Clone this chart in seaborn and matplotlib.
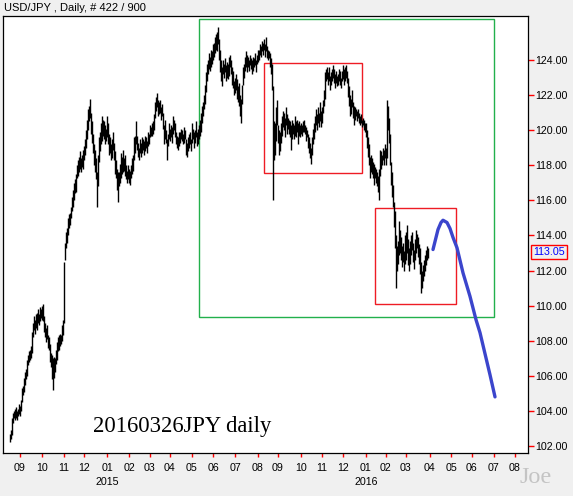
import numpy as np
import pandas as pd
import matplotlib
matplotlib.use("Agg")
import matplotlib.pyplot as plt
import seaborn as sns
from matplotlib.patches import Rectangle
from matplotlib.transforms import blended_transform_factory

# ---------------- data ----------------
# daily bar lows / highs, one per trading day (late Aug 2014 .. 25 Mar 2016)
bar_low = [
    102.2, 102.4, 102.6, 103.3, 103.6, 103.5, 103.6, 103.5, 103.7, 103.8,
    103.7, 104.0, 104.5, 104.9, 105.1, 105.5, 105.8, 106.0, 106.6, 106.8, 106.9, 107.0, 107.3, 108.2, 108.6, 108.4, 108.7, 108.6, 109.0, 108.9, 109.1, 109.3,
    109.2, 109.1, 108.5, 108.2, 107.9, 108.1, 107.6, 107.5, 106.8, 106.5, 105.8, 105.2, 105.9, 106.2, 106.7, 106.9, 107.4, 107.5, 107.7, 107.8, 108.0, 108.3,
    109.0, 112.6, 113.3, 113.6, 114.0, 114.4, 114.6, 115.0, 115.4, 115.6, 116.0, 116.4, 116.5, 117.3, 117.4, 117.6, 117.8, 117.6, 117.9, 117.8,
    118.3, 118.6, 119.0, 119.5, 120.0, 120.5, 120.7, 119.8, 119.3, 118.7, 118.0, 117.6, 117.2, 115.6, 116.8, 118.2, 118.8, 119.2, 119.4, 119.7, 119.5, 119.2, 119.4,
    119.6, 119.2, 118.6, 118.7, 118.3, 118.4, 118.9, 118.3, 117.5, 117.3, 116.6, 115.9, 116.8, 117.0, 117.3, 117.5, 117.6, 117.7, 117.4, 117.2, 117.0, 117.2,
    117.0, 116.9, 117.3, 117.5, 117.7, 118.3, 118.7, 119.2, 118.9, 118.5, 118.3, 118.7, 118.5, 118.7, 118.9, 118.6, 118.8, 119.0, 118.7, 119.1, 119.2,
    119.6, 119.7, 119.7, 119.8, 120.0, 120.7, 121.1, 121.3, 120.8, 120.9, 121.0, 120.6, 120.8, 120.1, 119.2, 119.5, 119.3, 118.3, 119.1, 119.5,
    119.4, 119.6, 119.3, 119.8, 120.0, 119.6, 119.2, 119.0, 118.9, 119.1, 119.3, 119.5, 119.4, 119.2, 119.3, 119.5, 118.6, 118.5, 118.8, 119.0, 119.2, 118.8,
    119.3, 119.5, 119.0, 119.3, 119.6, 119.1, 119.2, 119.5, 119.7, 119.9, 120.4, 120.8, 121.2, 121.5, 122.2, 122.8, 123.2, 123.5, 123.4, 123.6, 123.8,
    124.0, 124.2, 124.4, 124.6, 124.5, 124.9, 124.0, 123.3, 122.8, 122.5, 123.2, 123.0, 123.3, 122.8, 123.0, 122.9, 123.1, 123.6, 123.2, 122.6, 122.4, 122.0,
    122.1, 122.3, 121.8, 121.6, 121.4, 120.8, 120.4, 121.5, 122.6, 123.0, 123.4, 123.6, 123.3, 123.6, 123.4, 123.7, 123.5, 123.2, 123.4, 123.6, 123.7, 123.3, 123.8,
    123.9, 124.0, 124.3, 124.2, 124.5, 124.3, 124.6, 124.2, 124.5, 124.1, 124.0, 124.1, 123.6, 123.2, 122.3, 116.0, 118.3, 118.6, 119.4, 120.3,
    119.3, 118.6, 118.8, 119.3, 119.7, 120.2, 120.0, 119.6, 120.3, 119.8, 120.1, 119.8, 119.6, 118.9, 119.5, 119.8, 119.5, 119.7, 119.6, 119.9, 119.2, 119.7, 119.6,
    119.8, 119.7, 119.9, 119.9, 119.8, 119.4, 119.6, 119.0, 118.7, 118.4, 118.1, 118.6, 119.2, 119.5, 119.9, 120.3, 120.0, 120.4, 120.2, 120.5, 120.2,
    120.4, 121.0, 121.4, 121.8, 122.8, 122.9, 122.6, 122.8, 122.3, 122.6, 122.8, 123.0, 122.7, 122.4, 122.7, 122.5, 122.6, 122.8, 122.6, 122.4, 122.8,
    122.9, 122.6, 122.8, 123.0, 122.7, 121.9, 121.4, 120.8, 120.9, 121.3, 120.7, 120.3, 120.6, 120.8, 120.5, 120.7, 120.4, 120.3, 120.4, 120.2, 120.3, 120.0, 119.9,
    119.6, 119.0, 118.5, 118.0, 117.3, 117.6, 117.5, 117.3, 116.9, 117.3, 117.0, 116.8, 116.5, 116.0, 117.4, 117.8, 118.0, 118.3, 118.0, 118.4,
    118.0, 118.4, 120.0, 119.3, 118.0, 116.9, 116.2, 115.6, 114.5, 113.3, 111.0, 112.0, 112.4, 112.9, 113.0, 112.6, 112.2, 112.5, 112.0, 112.4,
    112.6, 113.0, 112.3, 112.0, 112.4, 112.9, 113.2, 112.5, 112.1, 112.6, 113.0, 113.3, 112.8, 112.4, 111.8, 110.7, 111.0, 111.4, 111.7, 112.0, 112.3, 112.6, 112.7,
]
bar_high = [
    102.7, 102.9, 103.6, 103.9, 104.0, 104.1, 104.2, 104.0, 104.1, 104.4,
    104.3, 104.6, 105.3, 105.4, 105.9, 106.2, 106.4, 106.9, 107.2, 107.4, 107.5, 107.7, 108.5, 109.0, 109.4, 109.2, 109.5, 109.6, 109.8, 109.5, 109.9, 109.8,
    110.0, 110.1, 109.4, 109.0, 108.7, 108.9, 108.3, 108.2, 107.8, 107.3, 107.2, 107.0, 107.1, 107.0, 107.5, 107.9, 108.2, 108.3, 108.4, 108.3, 108.9, 109.2,
    112.5, 113.6, 114.2, 114.4, 115.0, 115.2, 115.3, 115.6, 116.2, 116.6, 117.0, 117.2, 117.5, 118.0, 118.3, 118.5, 118.8, 118.4, 118.6, 118.9,
    119.1, 119.5, 120.0, 120.6, 121.2, 121.4, 121.8, 121.0, 120.5, 119.8, 119.2, 118.9, 118.4, 117.6, 118.6, 119.6, 119.9, 120.4, 120.8, 120.6, 120.5, 120.3, 120.1,
    120.8, 120.4, 119.8, 119.6, 119.2, 119.5, 119.9, 119.3, 118.8, 118.3, 117.8, 117.6, 117.6, 118.1, 118.7, 118.5, 118.9, 118.4, 118.6, 118.0, 117.7, 118.0,
    117.8, 117.7, 118.0, 118.4, 118.6, 119.6, 119.7, 120.5, 119.7, 119.3, 119.0, 119.5, 119.3, 119.6, 119.5, 119.4, 119.7, 119.6, 119.4, 119.9, 119.8,
    120.3, 120.2, 120.4, 120.5, 120.9, 121.6, 121.9, 122.1, 121.7, 121.6, 121.7, 121.3, 121.5, 121.0, 120.3, 120.6, 120.0, 119.5, 119.8, 120.4,
    120.1, 120.3, 120.2, 120.8, 120.6, 120.4, 119.9, 119.7, 119.6, 119.9, 119.9, 120.1, 120.0, 119.8, 120.2, 120.0, 119.5, 119.3, 119.6, 119.8, 119.9, 119.5,
    120.4, 120.1, 119.9, 120.0, 120.5, 119.9, 120.1, 120.3, 120.6, 121.0, 121.4, 121.6, 122.0, 122.6, 123.3, 123.8, 124.0, 124.4, 124.2, 124.6, 124.5,
    124.9, 125.0, 125.3, 125.5, 125.6, 125.9, 125.2, 124.6, 124.0, 123.6, 124.0, 123.8, 124.1, 123.7, 123.9, 123.8, 124.2, 124.3, 124.0, 123.6, 123.4, 122.8,
    123.0, 123.2, 122.9, 122.5, 122.7, 122.0, 121.8, 122.6, 123.6, 123.8, 124.2, 124.5, 124.3, 124.2, 124.0, 124.3, 124.1, 124.0, 124.2, 124.1, 124.4, 124.0, 124.3,
    124.6, 124.6, 124.9, 124.8, 125.1, 125.0, 125.2, 124.9, 125.3, 124.8, 124.6, 124.5, 124.4, 124.1, 123.8, 122.5, 120.5, 120.4, 121.3, 121.7,
    120.3, 120.0, 119.9, 120.4, 120.8, 121.1, 121.0, 120.7, 121.3, 120.9, 120.7, 120.6, 120.5, 120.3, 120.6, 120.4, 120.3, 120.8, 120.5, 120.6, 120.4, 120.5, 120.3,
    120.4, 120.3, 120.5, 120.6, 120.3, 120.2, 120.0, 119.8, 119.6, 119.3, 119.0, 119.6, 120.1, 120.4, 120.8, 121.2, 120.9, 121.3, 121.0, 121.6, 121.1,
    121.3, 121.7, 122.3, 123.3, 123.5, 123.6, 123.3, 123.6, 123.1, 123.3, 123.5, 123.7, 123.5, 123.2, 123.4, 123.1, 123.2, 123.5, 123.4, 123.0, 123.4,
    123.7, 123.5, 123.6, 123.7, 123.4, 123.0, 122.5, 122.0, 121.8, 122.3, 121.6, 121.4, 121.3, 121.2, 121.1, 121.2, 121.0, 120.8, 120.9, 120.6, 120.7, 120.6, 120.4,
    120.4, 120.0, 119.6, 119.2, 118.5, 118.6, 118.4, 118.2, 118.1, 117.9, 117.8, 117.6, 117.4, 117.8, 118.9, 118.8, 118.6, 119.0, 118.9, 119.2,
    119.0, 121.7, 121.4, 120.7, 119.8, 118.2, 117.6, 116.9, 115.9, 115.4, 114.0, 113.4, 113.7, 114.8, 114.3, 113.9, 113.4, 113.6, 113.1, 114.0,
    114.2, 114.6, 113.8, 113.3, 113.7, 114.0, 114.2, 113.6, 113.2, 113.8, 114.3, 114.1, 113.9, 113.5, 113.3, 112.5, 112.0, 112.3, 112.6, 112.9, 113.2, 113.4, 113.3,
]
last_close = 113.05

# projection curve (blue)
proj_x = [423, 428, 431, 433, 437, 440, 443, 447, 453, 460, 466, 470, 475, 480, 485]
proj_y = [113.2, 114.34, 114.74, 114.87, 114.74, 114.4, 113.89, 113.3, 111.87,
          110.53, 109.2, 108.46, 107.26, 106.06, 104.8]

# boxes drawn on the chart: (x0, y0, x1, y1) in bar index / price
green_box = (189, 109.37, 484, 126.34)
red_boxes = [(254.3, 117.58, 352.3, 123.81), (365.3, 110.10, 446.3, 115.58)]

# axes labels
month_pos = [10, 32, 54, 74, 97, 119, 140, 160, 182, 203, 225, 248,
             268, 291, 312, 333, 356, 376, 396, 420, 441, 462, 484, 505]
month_labels = ["09", "10", "11", "12", "01", "02", "03", "04", "05", "06", "07", "08",
                "09", "10", "11", "12", "01", "02", "03", "04", "05", "06", "07", "08"]
year_pos = [97, 356]
year_labels = ["2015", "2016"]
price_ticks = [102, 104, 106, 108, 110, 112, 114, 116, 118, 120, 122, 124]

title_text = "USD/JPY , Daily, # 422 / 900"
note_text = "20160326JPY daily"
sign_text = "Joe"

# ---------------- drawing ----------------
sns.set_style("white")
plt.rcParams['font.family'] = ['Liberation Sans', 'DejaVu Sans']

W, H = 573, 496
BG = '#f0f0f0'
fig = plt.figure(figsize=(W / 100, H / 100), dpi=100, facecolor=BG)
ax = fig.add_axes([3 / W, (H - 453) / H, 525 / W, 437 / H])
ax.set_facecolor('white')

df = pd.DataFrame({"i": np.arange(len(bar_low)), "low": bar_low, "high": bar_high})
ax.vlines(df["i"], df["low"], df["high"], color='black', linewidth=1.0, antialiased=True)

sns.lineplot(x=proj_x, y=proj_y, ax=ax, color='#3b45cc', linewidth=2.4, sort=False,
             legend=False)

gx0, gy0, gx1, gy1 = green_box
ax.add_patch(Rectangle((gx0, gy0), gx1 - gx0, gy1 - gy0, fill=False,
                       edgecolor='#22b04c', linewidth=1.0))
for (x0, y0, x1, y1) in red_boxes:
    ax.add_patch(Rectangle((x0, y0), x1 - x0, y1 - y0, fill=False,
                           edgecolor='#ee1c24', linewidth=1.0))

ax.set_xlim(-7, 518)
ax.set_ylim(101.6, 126.514)

ax.yaxis.tick_right()
ax.set_yticks(price_ticks)
ax.set_yticklabels([f"{v:.2f}" for v in price_ticks])
ax.set_xticks(month_pos)
ax.set_xticklabels(month_labels)
ax.tick_params(axis='y', which='both', left=False, right=True, direction='out',
               length=4, width=1, color='red', labelcolor='black', labelsize=7.7, pad=1)
ax.tick_params(axis='x', which='both', bottom=True, direction='out',
               length=3, width=1, color='red', labelcolor='black', labelsize=7.7, pad=4)
for s in ax.spines.values():
    s.set_color('black')
    s.set_linewidth(0.9)
ax.grid(False)

trans_xd = blended_transform_factory(ax.transData, fig.transFigure)
for p, lab in zip(year_pos, year_labels):
    ax.text(p, (H - 482) / H, lab, transform=trans_xd, ha='center', va='center',
            fontsize=7.7, color='black')

trans_yd = blended_transform_factory(fig.transFigure, ax.transData)
ax.text(533 / W, last_close, f"{last_close:.2f}", transform=trans_yd, ha='left',
        va='center', fontsize=7.7, color='#0000ff', clip_on=False,
        bbox=dict(boxstyle='square,pad=0.2', fc='none', ec='red', lw=1.0))

fig.text(4 / W, 1 - 8 / H, title_text, ha='left', va='center', fontsize=8, color='black')
fig.text(93 / W, (H - 432) / H, note_text, ha='left', va='baseline',
         fontsize=16.3, family=['Liberation Serif', 'DejaVu Serif'], color='black')
fig.text(519 / W, (H - 483) / H, sign_text, ha='left', va='baseline',
         fontsize=17.5, family=['Liberation Serif', 'DejaVu Serif'], color='#c4c4c4')

fig.savefig('out.png', dpi=100, facecolor=BG)
